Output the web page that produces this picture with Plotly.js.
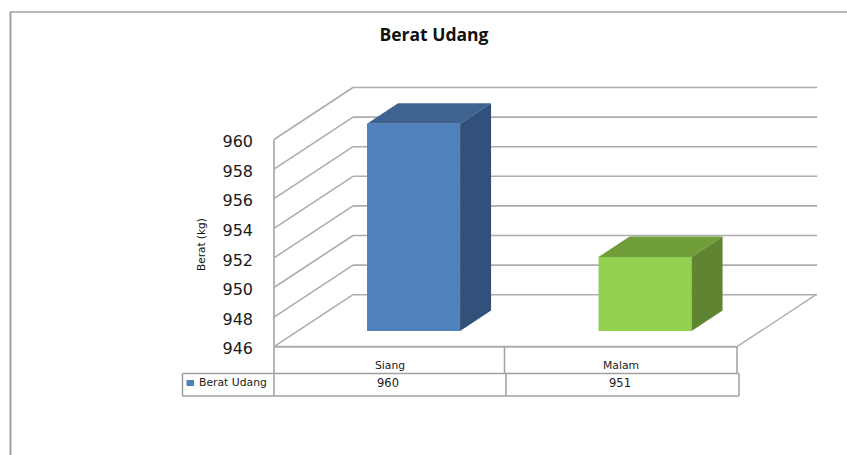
<!DOCTYPE html>
<html><head><meta charset="utf-8">
<script src="https://cdn.plot.ly/plotly-3.0.1.min.js"></script>
<style>html,body{margin:0;padding:0;background:#fff}#c{width:847px;height:455px}</style>
</head><body><div id="c"></div>
<script>
var chartTitle = 'Berat Udang';
var yTitle = 'Berat (kg)';
var categories = ['Siang', 'Malam'];
var seriesName = 'Berat Udang';
var values = [960, 951];
var yTicks = [946, 948, 950, 952, 954, 956, 958, 960];
var frontColors = ['#4f81bd', '#92d050'];
var topColors = ['#3e6390', '#6f9e3b'];
var sideColors = ['#31507a', '#5f8432'];
var gridColor = '#adadad';
var tableColor = '#a0a0a0';

var W = 847, H = 455;
var pxX = 231.5, pxY = 14.8;
var L = 264, R = 821, T = 84, B = 350;
var xMin = -0.5 - 10 / pxX, xMax = xMin + (R - L) / pxX;
var yMin = 946 - (B - 346.7) / pxY, yMax = yMin + (B - T) / pxY;
var base = yTicks[0];
var top0 = yTicks[yTicks.length - 1];
var wallDX = 79 / pxX, wallDY = 52 / pxY;
var barShiftX = 23.8 / pxX, barShiftY = 15.7 / pxY;
var barDX = 31 / pxX, barDY = 20.5 / pxY;
var barW = 0.402;
var nCat = categories.length;

function line(x0, y0, x1, y1, w, c) {
  return {type: 'line', xref: 'x', yref: 'y', layer: 'below', x0: x0, y0: y0, x1: x1, y1: y1,
          line: {color: c || gridColor, width: w || 1.6}};
}
function px(x0, y0, x1, y1, w, c) {
  return {type: 'line', xref: 'paper', yref: 'paper',
          x0: (x0 - L) / (R - L), x1: (x1 - L) / (R - L),
          y0: (B - y0) / (B - T), y1: (B - y1) / (B - T),
          line: {color: c || tableColor, width: w || 1.5}};
}
function rect(x0, y0, x1, y1, c) {
  return {type: 'rect', xref: 'paper', yref: 'paper',
          x0: (x0 - L) / (R - L), x1: (x1 - L) / (R - L),
          y0: (B - y0) / (B - T), y1: (B - y1) / (B - T),
          fillcolor: c, line: {width: 0}};
}

var shapes = [];
var xl = -0.5, xr = nCat - 0.5;
yTicks.forEach(function (t) {
  shapes.push(line(xl, t, xl + wallDX, t + wallDY));
  shapes.push(line(xl + wallDX, t + wallDY, xr + wallDX + 1.2 / pxX, t + wallDY));
});
shapes.push(line(xl, base, xl, top0, 1.8));
shapes.push(line(xl, base, xr, base, 2));
shapes.push(line(xr, base, xr + wallDX, base + wallDY, 1.4));

// data table
var tX = function (v) { return 274 + (v + 0.5) * pxX; };
shapes.push(px(274, 347, 274, 396));
shapes.push(px(504.5, 347, 504.5, 373.5));
shapes.push(px(737, 347, 737, 373.5));
shapes.push(px(182.5, 373.5, 739, 373.5));
shapes.push(px(182.5, 396, 739, 396));
shapes.push(px(182.5, 373.5, 182.5, 396));
shapes.push(px(506, 373.5, 506, 396));
shapes.push(px(739, 373.5, 739, 396));
shapes.push(rect(186.5, 380, 194, 386, frontColors[0]));
// outer frame
shapes.push(px(10.5, 12, 10.5, 455, 2));
shapes.push(px(10, 12, 847, 12, 1.6));

var traces = [{
  type: 'bar', name: seriesName,
  x: categories.map(function (c, i) { return i + barShiftX; }),
  y: values.map(function (v) { return v - base; }),
  base: base + barShiftY,
  width: barW,
  marker: {color: frontColors, line: {width: 0}},
  hoverinfo: 'skip', showlegend: false
}];
values.forEach(function (v, i) {
  var a = i + barShiftX - barW / 2, b = i + barShiftX + barW / 2;
  var y0 = base + barShiftY, y1 = v + barShiftY;
  traces.push({type: 'scatter', mode: 'lines', fill: 'toself', fillcolor: topColors[i],
    line: {width: 0, color: topColors[i]}, hoverinfo: 'skip', showlegend: false,
    x: [a, b, b + barDX, a + barDX, a],
    y: [y1, y1, y1 + barDY, y1 + barDY, y1]});
  traces.push({type: 'scatter', mode: 'lines', fill: 'toself', fillcolor: sideColors[i],
    line: {width: 0, color: sideColors[i]}, hoverinfo: 'skip', showlegend: false,
    x: [b, b + barDX, b + barDX, b, b],
    y: [y0, y0 + barDY, y1 + barDY, y1, y0]});
});

function ann(text, x, y, size, anchor, extra) {
  return Object.assign({text: text, xref: 'paper', yref: 'paper',
    x: (x - L) / (R - L), y: (B - y) / (B - T), showarrow: false,
    xanchor: anchor || 'center', yanchor: 'middle',
    font: {family: 'DejaVu Sans', size: size, color: '#1a1a1a'}}, extra || {});
}
var annotations = [];
categories.forEach(function (c, i) {
  annotations.push(ann(c, tX(i), 365.5, 10.8));
  annotations.push(ann(String(values[i]), tX(i) - 1.5, 383, 11.5));
});
annotations.push(ann(seriesName, 197, 382, 10.8, 'left'));
annotations.push(ann(yTitle, 201, 245, 10.5, 'center', {textangle: -90, font: {family: 'DejaVu Sans', size: 10.5, color: '#111'}}));

Plotly.newPlot('c', traces, {
  width: W, height: H,
  margin: {l: L, r: W - R, t: T, b: H - B, pad: 0},
  paper_bgcolor: '#fff', plot_bgcolor: '#fff',
  showlegend: false, barmode: 'overlay',
  title: {text: '<b>' + chartTitle + '</b>', x: 434 / W, xanchor: 'center', y: 1 - 35 / H, yanchor: 'middle',
          font: {family: 'Open Sans', size: 17.5, color: '#111'}},
  xaxis: {type: 'linear', range: [xMin, xMax], showgrid: false, zeroline: false, showline: false,
          showticklabels: false, ticks: ''},
  yaxis: {type: 'linear', range: [yMin, yMax], tickvals: yTicks, ticktext: yTicks.map(String),
          showgrid: false, zeroline: false, showline: false, ticks: '',
          ticklabelstandoff: 10, ticklabelshift: 2,
          tickfont: {family: 'DejaVu Sans', size: 16, color: '#1a1a1a'}},
  shapes: shapes, annotations: annotations
}, {displayModeBar: false, staticPlot: true});
</script></body></html>
